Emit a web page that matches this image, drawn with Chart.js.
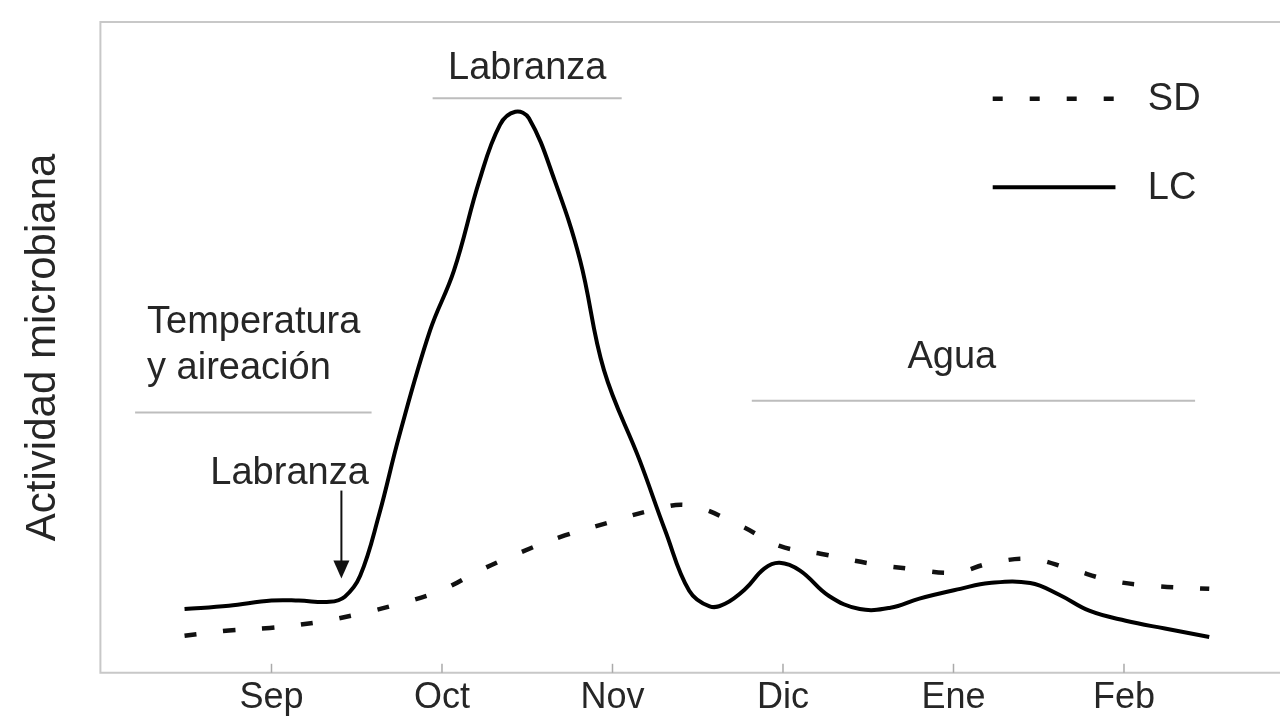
<!DOCTYPE html>
<html>
<head>
<meta charset="utf-8">
<script src="https://cdn.jsdelivr.net/npm/chart.js@4"></script>
<style>
	html, body { margin: 0; padding: 0; background: #fff; }
	#wrap { width: 1280px; height: 727px; }
</style>
</head>
<body>
<div id="wrap"><canvas id="microChart"></canvas></div>
<script>
// months counted from Sep = 0
const monthLabels = ["Sep", "Oct", "Nov", "Dic", "Ene", "Feb"];

const lcMonths = [-0.51, -0.25, 0, 0.16, 0.34, 0.43, 0.52, 0.63, 0.75, 0.93, 1.07, 1.22, 1.34, 1.43, 1.51, 1.66, 1.81, 1.95, 2.16, 2.31, 2.45, 2.57, 2.66, 2.78, 2.89, 2.98, 3.10, 3.27, 3.45, 3.63, 3.80, 4.04, 4.21, 4.45, 4.62, 4.80, 5.01, 5.24, 5.50];
const lcValues = [9.8, 10.3, 11.1, 11.1, 10.9, 11.7, 14.9, 24.2, 36.5, 52.6, 61.8, 75.7, 84.2, 86.2, 85.2, 75.7, 63.4, 46.5, 32.6, 21.8, 12.6, 10.2, 10.6, 12.9, 16.0, 16.9, 15.7, 11.8, 9.8, 10.0, 11.4, 12.9, 13.8, 13.8, 12.0, 9.5, 8.0, 6.8, 5.5];

const sdMonths = [-0.51, -0.25, -0.01, 0.25, 0.49, 0.75, 0.99, 1.22, 1.46, 1.72, 1.98, 2.22, 2.45, 2.75, 2.98, 3.22, 3.51, 3.74, 4.01, 4.21, 4.45, 4.68, 4.92, 5.15, 5.50];
const sdValues = [5.7, 6.5, 6.9, 7.7, 8.9, 10.6, 12.6, 15.7, 18.5, 21.1, 23.1, 24.9, 25.7, 22.6, 19.5, 18.3, 16.8, 16.0, 15.4, 16.8, 17.5, 16.0, 14.2, 13.4, 12.9];

const textColor = "#262626";
const ruleColor = "#bdbdbd";
const fontFamily = "'Liberation Sans', Arial, sans-serif";

// annotations placed in data units (month, activity)
const notes = [
	{ text: "Labranza", x: 1.50, y: 92.9, align: "center" },
	{ text: "Temperatura", x: -0.73, y: 53.8, align: "left" },
	{ text: "y aireación", x: -0.73, y: 46.8, align: "left" },
	{ text: "Labranza", x: 0.106, y: 30.6, align: "center" },
	{ text: "Agua", x: 3.99, y: 48.5, align: "center" }
];
const rules = [
	{ x1: 0.945, x2: 2.054, y: 88.3 },
	{ x1: -0.80, x2: 0.587, y: 40.0 },
	{ x1: 2.817, x2: 5.417, y: 41.8 }
];

const toPoints = (xs, ys) => xs.map((x, i) => ({ x: x, y: ys[i] }));

const decorPlugin = {
	id: "decor",
	beforeDatasetsDraw(chart) {
		const ctx = chart.ctx;
		const area = chart.chartArea;
		const xs = chart.scales.x;
		ctx.save();
		// frame
		ctx.strokeStyle = "#c8c8c8";
		ctx.lineWidth = 2;
		ctx.beginPath();
		ctx.moveTo(area.right, area.top);
		ctx.lineTo(area.left, area.top);
		ctx.lineTo(area.left, area.bottom);
		ctx.lineTo(area.right, area.bottom);
		ctx.stroke();
		// inner tick marks
		ctx.strokeStyle = "#aaa";
		ctx.lineWidth = 1.5;
		for (let i = 0; i < monthLabels.length; i++) {
			const px = xs.getPixelForValue(i);
			ctx.beginPath();
			ctx.moveTo(px, area.bottom);
			ctx.lineTo(px, area.bottom - 9);
			ctx.stroke();
		}
		ctx.restore();
	},
	afterDatasetsDraw(chart) {
		const ctx = chart.ctx;
		const xs = chart.scales.x;
		const ys = chart.scales.y;
		ctx.save();
		ctx.fillStyle = textColor;
		ctx.font = "38px " + fontFamily;
		ctx.textBaseline = "middle";
		for (const n of notes) {
			ctx.textAlign = n.align;
			ctx.fillText(n.text, xs.getPixelForValue(n.x), ys.getPixelForValue(n.y));
		}
		ctx.strokeStyle = ruleColor;
		ctx.lineWidth = 2;
		for (const r of rules) {
			const py = ys.getPixelForValue(r.y);
			ctx.beginPath();
			ctx.moveTo(xs.getPixelForValue(r.x1), py);
			ctx.lineTo(xs.getPixelForValue(r.x2), py);
			ctx.stroke();
		}

		// arrow under the lower "Labranza"
		const ax = xs.getPixelForValue(0.41);
		const ay1 = ys.getPixelForValue(28);
		const ay2 = ys.getPixelForValue(14.5);
		ctx.strokeStyle = "#111";
		ctx.fillStyle = "#111";
		ctx.lineWidth = 2;
		ctx.beginPath();
		ctx.moveTo(ax, ay1);
		ctx.lineTo(ax, ay2 - 12);
		ctx.stroke();
		ctx.beginPath();
		ctx.moveTo(ax - 8, ay2 - 18);
		ctx.lineTo(ax + 8, ay2 - 18);
		ctx.lineTo(ax, ay2);
		ctx.closePath();
		ctx.fill();

		// legend
		const lx1 = xs.getPixelForValue(4.23);
		const lx2 = xs.getPixelForValue(4.95);
		const tx = xs.getPixelForValue(5.14);
		const legend = [
			{ label: "SD", y: 88.2, ds: chart.data.datasets[1] },
			{ label: "LC", y: 74.6, ds: chart.data.datasets[0] }
		];
		for (const item of legend) {
			const py = ys.getPixelForValue(item.y);
			ctx.strokeStyle = item.ds.borderColor;
			ctx.lineWidth = item.ds.borderWidth;
			ctx.setLineDash(item.label === "SD" ? [10, 27] : []);
			ctx.beginPath();
			ctx.moveTo(lx1, py);
			ctx.lineTo(lx2, py);
			ctx.stroke();
			ctx.setLineDash([]);
			ctx.fillStyle = textColor;
			ctx.textAlign = "left";
			ctx.fillText(item.label, tx, py + 1);
		}
		ctx.restore();
	}
};

const microChart = new Chart(document.getElementById("microChart"), {
	type: "line",
	data: {
		datasets: [{
			label: "LC",
			data: toPoints(lcMonths, lcValues),
			borderColor: "#000",
			borderWidth: 4,
			pointRadius: 0,
			tension: 0.4,
			fill: false
		}, {
			label: "SD",
			data: toPoints(sdMonths, sdValues),
			borderColor: "#111",
			borderWidth: 4.5,
			borderDash: [12, 27],
			pointRadius: 0,
			tension: 0.4,
			fill: false
		}]
	},
	options: {
		responsive: true,
		maintainAspectRatio: false,
		animation: false,
		layout: { padding: { left: 14, top: 22, right: 0, bottom: 3 } },
		plugins: {
			legend: { display: false },
			tooltip: { enabled: false }
		},
		scales: {
			x: {
				type: "linear",
				min: -1.0035,
				max: 5.915,
				afterBuildTicks: (axis) => {
					axis.ticks = monthLabels.map((_, i) => ({ value: i }));
				},
				grid: { display: false, drawTicks: false },
				border: { display: false },
				ticks: {
					color: textColor,
					padding: 4,
					maxRotation: 0,
					autoSkip: false,
					font: { family: fontFamily, size: 36 },
					callback: (value) => monthLabels[value]
				}
			},
			y: {
				min: 0,
				max: 100,
				grid: { display: false, drawTicks: false },
				border: { display: false },
				ticks: { display: false },
				title: {
					display: true,
					text: "Actividad microbiana",
					color: textColor,
					font: { family: fontFamily, size: 42 },
					padding: { top: 4, bottom: 32 }
				}
			}
		}
	},
	plugins: [decorPlugin]
});
</script>
</body>
</html>
